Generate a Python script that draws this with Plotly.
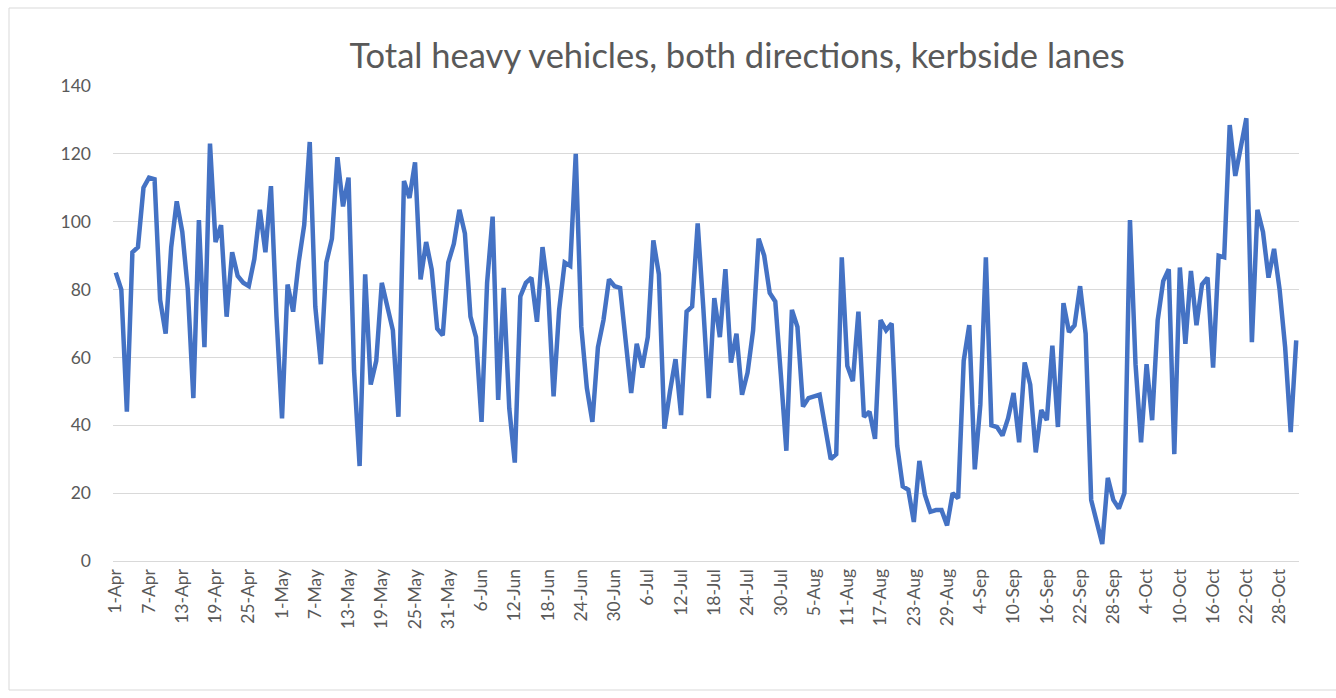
import pandas as pd
import plotly.graph_objects as go

# ---- data ----
start_date = "2021-04-01"
end_date = "2021-10-31"
dates = pd.date_range(start_date, end_date, freq="D")
categories = [f"{d.day}-{d.strftime('%b')}" for d in dates]

heavy_vehicles = [
    85, 80, 44, 91, 92.5, 110, 113, 112.5, 77, 67,
    92.5, 106, 97, 80, 48, 100.5, 63, 123, 94, 99,
    72, 91, 84, 82, 81, 89, 103.5, 91, 110.5, 72,
    42, 81.5, 73.5, 88, 99, 123.5, 75, 58, 88, 95,
    119, 104.5, 113, 56, 28, 84.5, 52, 59, 82, 75,
    68, 42.5, 112, 107, 117.5, 83, 94, 86, 68.5, 66.5,
    88, 93.5, 103.5, 96.5, 72, 66, 41, 82, 101.5, 47.5,
    80.5, 45, 29, 78, 82, 83.5, 70.5, 92.5, 80, 48.5,
    74, 88, 87, 120, 69, 51, 41, 63, 71, 83,
    81, 80.5, 65, 49.5, 64, 57, 66, 94.5, 84.5, 39,
    50, 59.5, 43, 73.5, 75, 99.5, 75, 48, 77.5, 66,
    86, 58.5, 67, 49, 55.5, 68, 95, 90, 79, 76.5,
    55, 32.5, 74, 69, 45.5, 48, 48.5, 49, 39.5, 30,
    31.5, 89.5, 57.5, 53, 73.5, 42.5, 44, 36, 71, 68,
    70, 34, 22, 21, 11.5, 29.5, 19.5, 14.5, 15, 15,
    10.5, 20, 18.5, 59, 69.5, 27, 46, 89.5, 40, 39.5,
    37, 42, 49.5, 35, 58.5, 52, 32, 44.5, 41.5, 63.5,
    39.5, 76, 67.5, 69.5, 81, 67, 18, 11, 5, 24.5,
    18, 15.5, 20, 100.5, 58, 35, 58, 41.5, 71, 82.5,
    86, 31.5, 86.5, 64, 85.5, 69.5, 81.5, 83.5, 57, 90,
    89.5, 128.5, 113.5, 122, 130.5, 64.5, 103.5, 97, 83.5, 92,
    80, 63, 38, 65,
]

tick_labels = categories[::6]
y_ticks = [0, 20, 40, 60, 80, 100, 120, 140]
title_text = "Total heavy vehicles, both directions, kerbside lanes"

# ---- layout geometry (pixels) ----
W, H = 1336, 698
L, R, T, B = 113, 37, 86, 137
pw, ph = W - L - R, H - T - B


def px_x(px):
    return (px - L) / pw


def px_y(py):
    return (H - B - py) / ph


grey_text = "#595959"
grid = "#d9d9d9"
font_family = "Lato, 'Open Sans', sans-serif"

fig = go.Figure()
fig.add_trace(go.Scatter(
    x=categories,
    y=heavy_vehicles,
    mode="lines",
    line=dict(color="#4472C4", width=4.5),
    hoverinfo="x+y",
))

fig.update_layout(
    width=W, height=H, autosize=False,
    margin=dict(l=L, r=R, t=T, b=B),
    paper_bgcolor="white", plot_bgcolor="white",
    showlegend=False,
    font=dict(family=font_family, color=grey_text, size=17),
    title=dict(
        text=title_text,
        x=737 / W, xref="container", xanchor="center",
        y=1 - 56 / H, yref="container", yanchor="middle",
        font=dict(family=font_family, size=34.5, color=grey_text),
    ),
    xaxis=dict(
        type="category",
        categoryorder="array", categoryarray=categories,
        range=[-0.5, len(categories) - 0.5],
        tickmode="array", tickvals=tick_labels, ticktext=tick_labels,
        tickangle=-90,
        showgrid=False, zeroline=False,
        showline=True, linecolor=grid, linewidth=1,
        ticks="",
        tickfont=dict(size=17.5, color=grey_text),
    ),
    yaxis=dict(
        range=[0, 140],
        tickmode="array", tickvals=y_ticks,
        showgrid=True, gridcolor=grid, gridwidth=1,
        zeroline=False, showline=False, ticks="",
        ticklabelstandoff=21,
        tickfont=dict(size=17.5, color=grey_text),
    ),
    shapes=[dict(
        type="rect", xref="paper", yref="paper",
        x0=px_x(9), x1=px_x(1340), y0=px_y(690), y1=px_y(8),
        line=dict(color=grid, width=1), fillcolor="rgba(0,0,0,0)",
        layer="below",
    )],
)

fig.write_html(
    "out.html",
    config={"displayModeBar": False},
    post_script="document.body.style.margin='0';document.body.style.overflow='hidden';",
)
